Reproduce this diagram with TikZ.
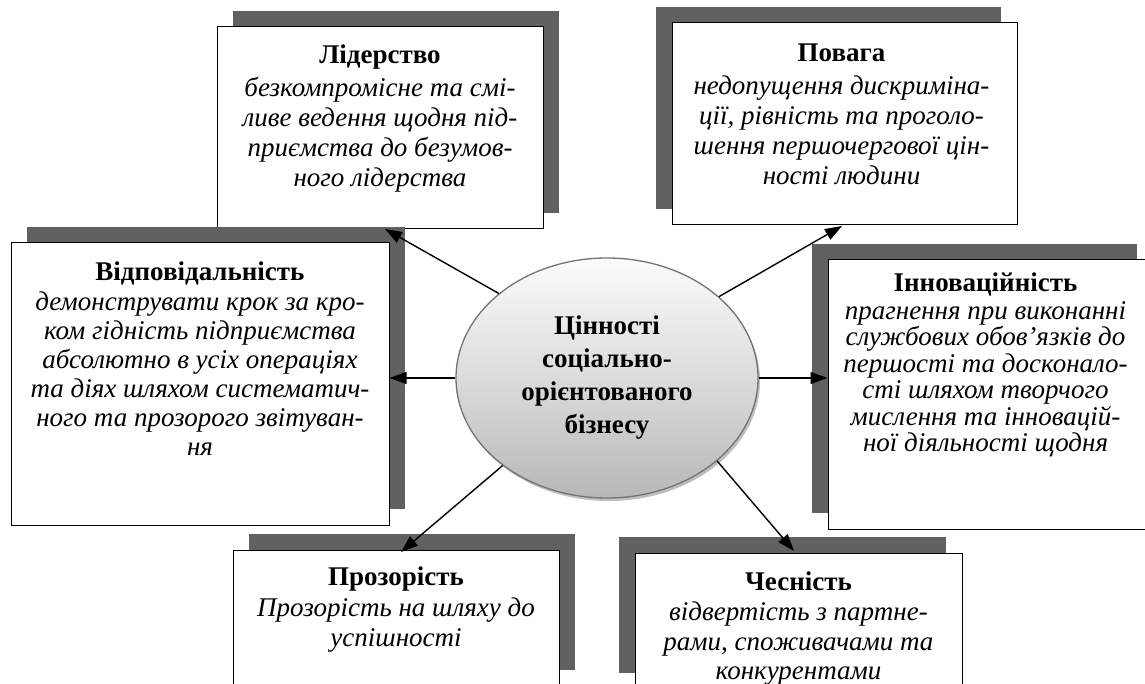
\documentclass[tikz,border=0pt]{standalone}
\usepackage{fontspec}
\setmainfont{Liberation Serif}
\usetikzlibrary{arrows.meta,shapes.geometric,shadows}
\pgfdeclareverticalshading{ellshade}{100bp}{color(0bp)=(black!42); color(50bp)=(black!14); color(78bp)=(white); color(100bp)=(black!14)}
\tikzset{
  card/.style={draw=black, line width=1pt, fill=white, rectangle, inner sep=0},
  shur/.style={drop shadow={shadow xshift=16pt, shadow yshift=16pt, fill=black!62, opacity=1}},
  shul/.style={drop shadow={shadow xshift=-16pt, shadow yshift=16pt, fill=black!62, opacity=1}},
  desc/.style={align=center, anchor=north, inner sep=0, font=\fontsize{27}{30}\selectfont\itshape},
  arr/.style={-{Triangle[length=17pt,width=12pt]}, line width=1.4pt},
}
\begin{document}
\begin{tikzpicture}[x=1pt,y=-1pt]
\useasboundingbox (0,0) rectangle (1145,684);
\clip (0,0) rectangle (1145,684);
% boxes
\node[card,shur,minimum width=326pt,minimum height=202pt] (lid) at (380,128) {};
\node[desc] (lidt) at ([yshift=-16pt]lid.north) {\strut\textup{\textbf{Лідерство}}\\[3pt]
безкомпромісне та смі-\\ливе ведення щодня під-\\приємства до безумов-\\ного лідерства};
\node[card,shul,minimum width=345pt,minimum height=202pt] (pov) at (844.5,124) {};
\node[desc] (povt) at ([xshift=-3pt,yshift=-18pt]pov.north) {\strut\textup{\textbf{Повага}}\\[3pt]
недопущення дискриміна-\\ції, рівність та проголо-\\шення першочергової цін-\\ності людини};
\node[card,shur,minimum width=378pt,minimum height=282pt] (vid) at (200,384) {};
\node[desc,font=\fontsize{27}{29}\selectfont\itshape] (vidt) at ([yshift=-17pt]vid.north) {\strut\textup{\textbf{Відповідальність}}\\[1pt]
демонструвати крок за кро-\\ком гідність підприємства\\абсолютно в усіх операціях\\та діях шляхом систематич-\\ного та прозорого звітуван-\\ня};
\node[card,shul,minimum width=325pt,minimum height=269pt] (inn) at (990.5,394.5) {};
\node[desc,font=\fontsize{27}{26.5}\selectfont\itshape] (innt) at ([xshift=-5pt,yshift=-13pt]inn.north) {\strut\textup{\textbf{Інноваційність}}\\[1.5pt]
прагнення при виконанні\\службових обов’язків до\\першості та досконало-\\сті шляхом творчого\\мислення та інновацій-\\ної діяльності щодня};
\node[card,shur,minimum width=326pt,minimum height=136pt] (prz) at (396,618) {};
\node[desc] (przt) at ([yshift=-15pt]prz.north) {\strut\textup{\textbf{Прозорість}}\\[1pt]
Прозорість на шляху до\\успішності};
\node[card,shul,minimum width=327pt,minimum height=136pt] (che) at (798.5,621) {};
\node[desc,font=\fontsize{27}{29.5}\selectfont\itshape] (chet) at ([yshift=-17pt]che.north) {\strut\textup{\textbf{Чесність}}\\[1pt]
відвертість з партне-\\рами, споживачами та\\конкурентами};
% centre
\node[ellipse, draw=black!55, line width=1.3pt, shading=ellshade, minimum width=302pt, minimum height=240pt, inner sep=0, align=center, font=\fontsize{27}{33}\selectfont\bfseries, drop shadow={shadow xshift=2pt, shadow yshift=-3pt, fill=black!25, opacity=1}] (ell) at (607,378) {Цінності\\соціально-\\орієнтованого\\бізнесу};
% arrows
\coordinate (lidtip) at (385,229);
\coordinate (povtip) at (842,226);
\coordinate (prztip) at (401,552);
\coordinate (chetip) at (794,551);
\draw[arr] (ell.142) -- (lidtip);
\draw[arr] (ell.36) -- (povtip);
\draw[arr] (ell.west) -- (ell.west -| vid.east);
\draw[arr] (ell.east) -- (ell.east -| inn.west);
\draw[arr] (ell.220) -- (prztip);
\draw[arr] (ell.-37.5) -- (chetip);
\end{tikzpicture}
\end{document}
